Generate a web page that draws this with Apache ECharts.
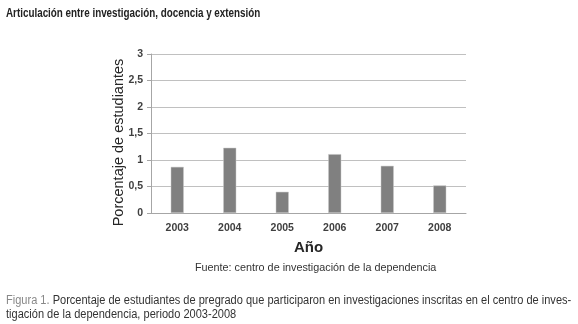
<!DOCTYPE html>
<html>
<head>
<meta charset="utf-8">
<script src="https://cdn.jsdelivr.net/npm/echarts@6/dist/echarts.min.js"></script>
<style>
  html, body { margin: 0; padding: 0; background: #fff; }
  #chart { width: 578px; height: 324px; }
</style>
</head>
<body>
<div id="chart"></div>
<script>
// datos de la figura
var years = ['2003', '2004', '2005', '2006', '2007', '2008']
var porcentajes = [0.87, 1.23, 0.40, 1.11, 0.89, 0.52]
var yTicks = [0, 0.5, 1, 1.5, 2, 2.5, 3]

var sans = '"Liberation Sans", Arial, sans-serif'

var chart = echarts.init(document.getElementById('chart'))
chart.setOption({
  backgroundColor: '#ffffff',
  animation: false,
  grid: {
    left: 151,
    right: 112,
    top: 54,
    bottom: 111
  },
  xAxis: {
    type: 'category',
    data: years,
    name: 'Año',
    nameLocation: 'middle',
    nameGap: 27,
    nameTextStyle: { fontFamily: sans, fontSize: 15, fontWeight: 'bold', color: '#262626' },
    axisLine: { lineStyle: { color: '#a6a6a6' } },
    axisTick: { show: false },
    axisLabel: { fontFamily: sans, fontSize: 10.5, fontWeight: 'bold', color: '#404040', margin: 10 }
  },
  yAxis: {
    type: 'value',
    min: yTicks[0],
    max: yTicks[yTicks.length - 1],
    interval: 0.5,
    name: 'Porcentaje de estudiantes',
    nameLocation: 'middle',
    nameGap: 25,
    nameMoveOverlap: false,
    nameTextStyle: { fontFamily: sans, fontSize: 14.5, color: '#262626', padding: [0, 18, 0, 0] },
    axisLine: { show: true, lineStyle: { color: '#a6a6a6' } },
    axisTick: { show: true, length: 4, lineStyle: { color: '#a6a6a6' } },
    axisLabel: {
      fontFamily: sans, fontSize: 10.5, fontWeight: 'bold', color: '#404040', margin: 8,
      formatter: function (v) { return String(v).replace('.', ',') }
    },
    splitLine: { lineStyle: { color: '#c0c0c0' } }
  },
  series: [{
    type: 'bar',
    data: porcentajes,
    barWidth: 13,
    itemStyle: { color: '#808080', borderColor: '#c8c8c8', borderWidth: 0.5 }
  }],
  graphic: [
    {
      type: 'text', left: 6, top: 8, scaleX: 0.82,
      style: { text: 'Articulación entre investigación, docencia y extensión', font: 'bold 12px ' + sans, fill: '#222' }
    },
    {
      type: 'text', left: 195, top: 263,
      style: { text: 'Fuente: centro de investigación de la dependencia', font: '10.8px ' + sans, fill: '#333' }
    },
    {
      type: 'text', left: 6, top: 294, scaleX: 0.92,
      style: {
        text: '{b|Figura 1.} Porcentaje de estudiantes de pregrado que participaron en investigaciones inscritas en el centro de inves-\ntigación de la dependencia, periodo 2003-2008',
        font: '12px ' + sans, fill: '#333', lineHeight: 14,
        rich: { b: { font: '12px ' + sans, fill: '#888' } }
      }
    }
  ]
})
</script>
</body>
</html>
